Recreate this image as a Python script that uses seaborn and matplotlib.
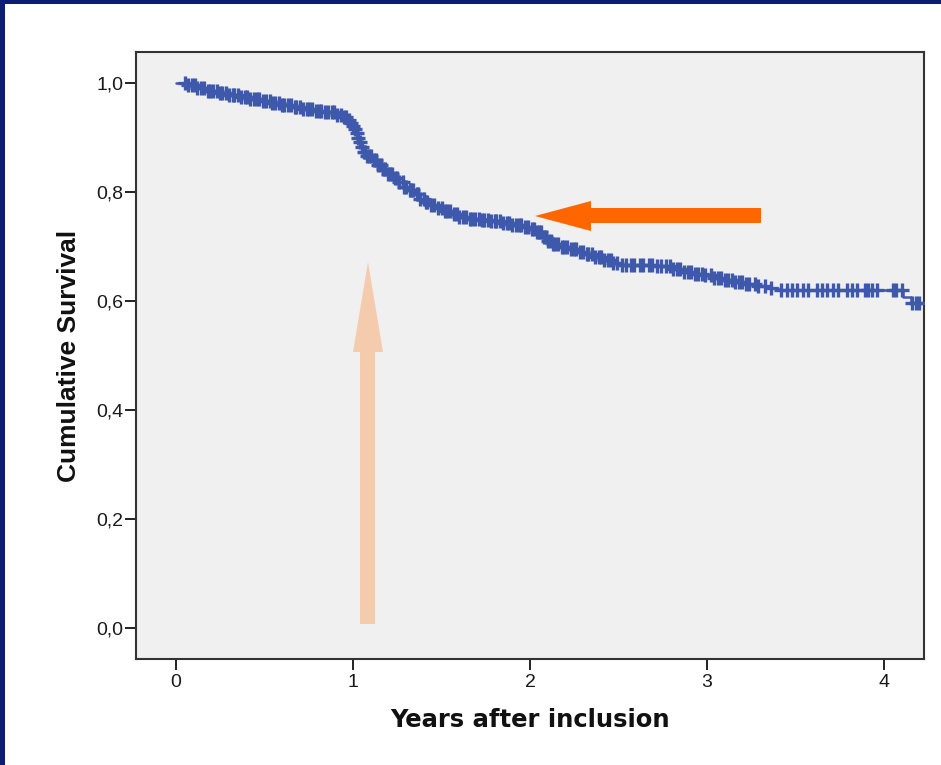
#!/usr/bin/env python3
import numpy as np
import pandas as pd
import matplotlib
matplotlib.use("Agg")
import matplotlib.pyplot as plt
from matplotlib.patches import Polygon, Rectangle
import seaborn as sns

# Kaplan-Meier step curve
km_time = [0.00, 0.06, 0.12, 0.18, 0.24, 0.30, 0.36, 0.42, 0.48, 0.54,
           0.60, 0.66, 0.72, 0.78, 0.84, 0.90, 0.94, 0.97, 0.99, 1.00,
           1.01, 1.02, 1.03, 1.04, 1.05, 1.06, 1.08, 1.11, 1.14, 1.17,
           1.20, 1.23, 1.26, 1.29, 1.32, 1.35, 1.38, 1.41, 1.44, 1.48,
           1.52, 1.56, 1.60, 1.66, 1.72, 1.78, 1.84, 1.90, 1.96, 2.00,
           2.04, 2.07, 2.10, 2.13, 2.17, 2.22, 2.27, 2.32, 2.37, 2.42,
           2.47, 2.52, 2.62, 2.72, 2.80, 2.86, 2.92, 2.98, 3.04, 3.10,
           3.16, 3.22, 3.28, 3.34, 3.40, 4.11, 4.15, 4.23]
km_surv = [1.000, 0.996, 0.991, 0.986, 0.982, 0.978, 0.975, 0.971, 0.967, 0.963,
           0.959, 0.956, 0.952, 0.949, 0.946, 0.941, 0.937, 0.932, 0.927, 0.922,
           0.915, 0.908, 0.900, 0.891, 0.882, 0.874, 0.866, 0.858, 0.850, 0.842,
           0.834, 0.826, 0.818, 0.810, 0.803, 0.796, 0.788, 0.781, 0.777, 0.771,
           0.765, 0.760, 0.755, 0.750, 0.748, 0.746, 0.743, 0.740, 0.736, 0.732,
           0.726, 0.718, 0.711, 0.705, 0.700, 0.695, 0.690, 0.686, 0.680, 0.675,
           0.670, 0.667, 0.666, 0.665, 0.658, 0.653, 0.650, 0.647, 0.643, 0.638,
           0.634, 0.631, 0.628, 0.624, 0.621, 0.607, 0.597, 0.597]

# censored observations (the "+" marks)
censor_time = [0.05, 0.07, 0.09, 0.11, 0.12, 0.14, 0.16, 0.18, 0.19, 0.21,
               0.23, 0.25, 0.26, 0.28, 0.30, 0.32, 0.33, 0.35, 0.37, 0.39,
               0.40, 0.42, 0.44, 0.46, 0.47, 0.49, 0.51, 0.53, 0.54, 0.56,
               0.58, 0.60, 0.61, 0.63, 0.65, 0.67, 0.68, 0.70, 0.72, 0.74,
               0.75, 0.77, 0.79, 0.81, 0.82, 0.84, 0.86, 0.88, 0.89, 0.91,
               0.93, 0.95, 0.96, 0.98, 0.99, 1.00, 1.01, 1.02, 1.03, 1.04,
               1.05, 1.06, 1.07, 1.08, 1.09, 1.10, 1.12, 1.13, 1.14, 1.16,
               1.17, 1.18, 1.20, 1.21, 1.22, 1.24, 1.25, 1.26, 1.28, 1.29,
               1.30, 1.32, 1.33, 1.34, 1.36, 1.37, 1.38, 1.40, 1.41, 1.42,
               1.44, 1.46, 1.48, 1.50, 1.52, 1.53, 1.55, 1.57, 1.59, 1.60,
               1.62, 1.64, 1.66, 1.67, 1.69, 1.71, 1.73, 1.74, 1.76, 1.78,
               1.80, 1.81, 1.83, 1.85, 1.87, 1.88, 1.90, 1.92, 1.94, 1.95,
               1.97, 1.99, 2.01, 2.02, 2.04, 2.05, 2.06, 2.08, 2.09, 2.10,
               2.12, 2.13, 2.14, 2.16, 2.18, 2.19, 2.21, 2.23, 2.25, 2.26,
               2.28, 2.30, 2.32, 2.33, 2.35, 2.37, 2.39, 2.40, 2.42, 2.44,
               2.46, 2.47, 2.49, 2.52, 2.54, 2.57, 2.59, 2.62, 2.64, 2.67,
               2.69, 2.72, 2.74, 2.77, 2.79, 2.81, 2.83, 2.85, 2.87, 2.89,
               2.91, 2.93, 2.95, 2.97, 2.99, 3.02, 3.04, 3.06, 3.08, 3.10,
               3.12, 3.14, 3.16, 3.18, 3.20, 3.22, 3.24, 3.27, 3.29, 3.33,
               3.36, 3.42, 3.45, 3.48, 3.51, 3.54, 3.57, 3.62, 3.65, 3.68,
               3.71, 3.74, 3.79, 3.82, 3.85, 3.89, 3.91, 3.93, 3.96, 4.05,
               4.07, 4.10, 4.16, 4.18, 4.20]

x_ticks = [0, 1, 2, 3, 4]
y_ticks = [0.0, 0.2, 0.4, 0.6, 0.8, 1.0]
y_tick_labels = ["0,0", "0,2", "0,4", "0,6", "0,8", "1,0"]

W, H = 941, 765
BLUE = "#3e58ac"

sns.set_theme(style="white")
plt.rcParams["font.family"] = ["Liberation Sans", "DejaVu Sans"]

fig = plt.figure(figsize=(W / 100, H / 100), dpi=100, facecolor="white")
ax = fig.add_axes([136 / W, 1 - 659 / H, (924 - 136) / W, (659 - 52) / H])
ax.set_facecolor("#f0f0f0")

curve = pd.DataFrame({"time": km_time, "surv": km_surv})
sns.lineplot(data=curve, x="time", y="surv", estimator=None, sort=False,
             drawstyle="steps-post", color=BLUE, linewidth=1.8, ax=ax)

# censor marks sit on the survival level at their time
idx = np.searchsorted(np.array(km_time), np.array(censor_time), side="right") - 1
marks = pd.DataFrame({"time": censor_time, "surv": np.array(km_surv)[idx]})
sns.scatterplot(data=marks, x="time", y="surv", marker="+", s=100,
                linewidth=2.4, color=BLUE, ax=ax, zorder=3)

ax.set_xlim(-0.226, 4.226)
ax.set_ylim(-0.057, 1.057)
ax.set_xticks(x_ticks)
ax.set_xticklabels([str(t) for t in x_ticks])
ax.set_yticks(y_ticks)
ax.set_yticklabels(y_tick_labels)
ax.tick_params(axis="both", which="major", direction="out", length=8,
               width=1.4, color="#222222", labelsize=14, labelcolor="#1a1a1a",
               left=True, bottom=True)
ax.tick_params(axis="y", pad=1)
ax.tick_params(axis="x", pad=3)

for side in ["left", "bottom", "top", "right"]:
    ax.spines[side].set_color("#333333")
    ax.spines[side].set_linewidth(1.5)

ax.set_xlabel("Years after inclusion", fontsize=17.5, fontweight="bold",
              family="DejaVu Sans", labelpad=12, color="#111111")
ax.set_ylabel("Cumulative Survival", fontsize=19, fontweight="bold",
              labelpad=11, color="#111111")


def px(points):
    # picture pixels (top-left origin) -> figure fraction
    return [(x / W, 1 - y / H) for x, y in points]


orange_arrow = [(535, 216), (591, 201), (591, 208), (761, 208),
                (761, 223), (591, 223), (591, 231)]
peach_arrow = [(368, 262), (383, 352), (375, 352), (375, 624),
               (360, 624), (360, 352), (353, 352)]
fig.patches.append(Polygon(px(orange_arrow), closed=True, facecolor="#ff6600",
                           edgecolor="none", transform=fig.transFigure, zorder=5))
fig.patches.append(Polygon(px(peach_arrow), closed=True, facecolor="#f5cbae",
                           edgecolor="none", transform=fig.transFigure, zorder=5))

# dark slide frame along the top and left edges
frame = "#0b1e73"
fig.patches.append(Rectangle((0, 1 - 4 / H), 1, 4 / H, facecolor=frame,
                             edgecolor="none", transform=fig.transFigure, zorder=6))
fig.patches.append(Rectangle((0, 0), 5 / W, 1, facecolor=frame,
                             edgecolor="none", transform=fig.transFigure, zorder=6))

fig.savefig("out.png", dpi=100, facecolor="white")
